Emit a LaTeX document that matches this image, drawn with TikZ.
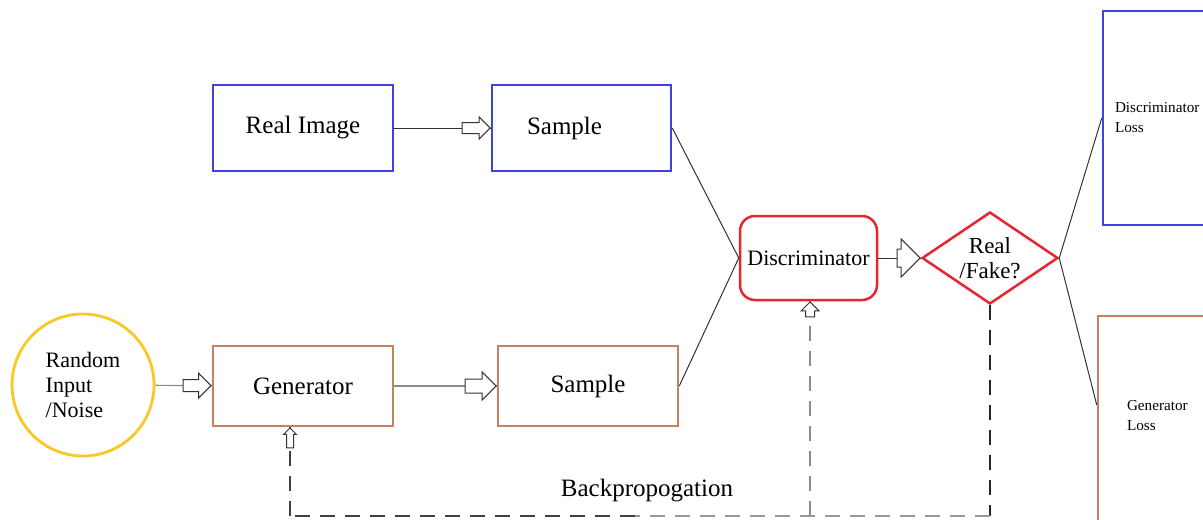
\documentclass[tikz,border=0pt]{standalone}
\usepackage{fontspec}
\setmainfont{Liberation Serif}
\usetikzlibrary{shapes.geometric,shapes.arrows}
\definecolor{ganblue}{RGB}{66,66,226}
\definecolor{ganbrown}{RGB}{196,130,96}
\definecolor{ganred}{RGB}{232,36,44}
\definecolor{ganyellow}{RGB}{248,200,36}
\tikzset{
  box/.style={draw, line width=1.25pt, inner sep=0pt, font=\fontsize{12.5}{15}\selectfont},
  losstext/.style={font=\fontsize{7.6}{10}\selectfont, align=left},
  link/.style={draw=black!80, line width=0.5pt},
  paleline/.style={draw=black!45, line width=0.6pt},
  hollowtip/.style n args={3}{single arrow, solid, draw=black!80, fill=white, line width=0.5pt,
    inner xsep=0pt, inner ysep=#2, minimum height=#1, single arrow head extend=#3,
    single arrow head indent=0pt, anchor=tip},
  uptip/.style n args={3}{hollowtip={#1}{0pt}{#3}, inner xsep=#2, shape border rotate=90},
  backdash/.style={line width=1pt, dash pattern=on 7.5pt off 5pt},
}
\begin{document}
\begin{tikzpicture}[x=0.5pt, y=-0.5pt]
  \useasboundingbox (0,0) rectangle (1203,519);
  \clip (0,0) rectangle (1203,519);

  \node[box, draw=ganblue, minimum width=90pt, minimum height=43pt] (real) at (303,128) {Real Image};
  \node[box, draw=ganblue, minimum height=43pt, inner xsep=17.5pt, text width=54.5pt, align=left] (sample1) at (581.5,128) {Sample};
  \node[box, draw=ganbrown, minimum width=90pt, minimum height=40pt] (gen) at (303,386) {Generator};
  \node[box, draw=ganbrown, minimum width=90pt, minimum height=40pt] (sample2) at (588,386) {Sample};
  \node[circle, draw=ganyellow, line width=1.4pt, minimum size=71pt, inner sep=0pt, align=left,
    font=\fontsize{11}{12.3}\selectfont] (noise) at (83,385) {Random\\Input\\/Noise};
  \node[box, draw=ganred, rounded corners=7.5pt, minimum width=68.5pt, minimum height=42pt,
    font=\fontsize{11}{13}\selectfont] (disc) at (808.5,258) {Discriminator};
  \node[diamond, aspect=1.5, draw=ganred, line width=1.25pt, minimum width=68pt, minimum height=46pt, inner sep=0pt,
    align=center, font=\fontsize{11.5}{12.5}\selectfont] (judge) at (990,258) {Real\\/Fake?};
  \node[box, draw=ganblue, minimum height=107pt, inner xsep=6pt, text width=51pt, losstext] (dloss) at (1166,118) {Discriminator\\Loss};
  \node[box, draw=ganbrown, minimum height=112pt, inner xsep=14.5pt, text width=42pt, losstext] (gloss) at (1169,428) {Generator\\Loss\\[3pt]\mbox{}};
  \node[font=\fontsize{12.5}{15}\selectfont] (backprop) at (647,491) {Backpropogation};

  \draw[link] (real) -- (sample1) node[hollowtip={14pt}{2.5pt}{2.75pt}, pos=1] {};
  \draw[paleline] (noise) -- (gen) node[hollowtip={14pt}{2.75pt}{3.25pt}, pos=1] {};
  \draw[paleline] (gen) -- (sample2) node[hollowtip={15.5pt}{3.25pt}{3.5pt}, pos=1] {};
  \draw[link] (sample1.east) -- (disc.west);
  \draw[link] (sample2.east) -- (disc.west);
  \draw[link] (disc) -- (judge) node[hollowtip={11.5pt}{4.25pt}{5pt}, pos=1] {};
  \draw[link] (judge.east) -- (dloss.west);
  \draw[link] (judge.east) -- ([yshift=11.5pt]gloss.west);

  \coordinate (corner) at (990,516);
  \coordinate (midfoot) at (635,516);
  \coordinate (discfoot) at (810,516);
  \coordinate (genfoot) at (290,516);
  \draw[backdash, black!85] (judge.south) -- (corner);
  \draw[backdash, black!40] (corner) -- (midfoot);
  \draw[backdash, black!75] (midfoot) -- (genfoot);
  \draw[backdash, black!75] (genfoot) -- (genfoot |- gen.south)
    node[uptip={10pt}{1.5pt}{1.5pt}, pos=1] {};
  \draw[backdash, black!45] (discfoot) -- (discfoot |- disc.south)
    node[uptip={7.5pt}{2pt}{2.25pt}, pos=1] {};
\end{tikzpicture}
\end{document}
